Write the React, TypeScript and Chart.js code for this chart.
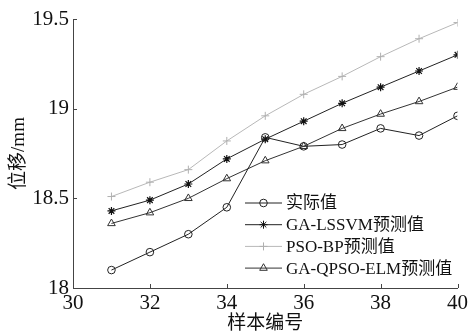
import React, { useEffect, useRef } from "react";
import { Chart, registerables } from "chart.js";
import { drawPoint } from "chart.js/helpers";

Chart.register(...registerables);

const sampleNo = [31, 32, 33, 34, 35, 36, 37, 38, 39, 40];
const actual = [18.1, 18.2, 18.3, 18.45, 18.84, 18.79, 18.8, 18.89, 18.85, 18.96];
const gaLssvm = [18.43, 18.49, 18.58, 18.72, 18.83, 18.93, 19.03, 19.12, 19.21, 19.3];
const psoBp = [18.51, 18.59, 18.66, 18.82, 18.96, 19.08, 19.18, 19.29, 19.39, 19.48];
const gaQpsoElm = [18.36, 18.42, 18.5, 18.61, 18.71, 18.79, 18.89, 18.97, 19.04, 19.12];
const seriesNames = ["实际值", "GA-LSSVM预测值", "PSO-BP预测值", "GA-QPSO-ELM预测值"];
const xTitle = "样本编号";
const yTitle = "位移/mm";

const FONT = "'Liberation Serif', 'Times New Roman', 'Noto Sans CJK SC', serif";
const AXIS_COLOR = "#444";

const innerTicks = {
  id: "innerTicks",
  afterDraw(chart: any) {
    const ctx = chart.ctx;
    const xs = chart.scales.x;
    const ys = chart.scales.y;
    const area = chart.chartArea;
    ctx.save();
    ctx.strokeStyle = AXIS_COLOR;
    ctx.lineWidth = 1;
    ctx.beginPath();
    xs.ticks.forEach((t: any) => {
      const px = Math.round(xs.getPixelForValue(t.value)) + 0.5;
      ctx.moveTo(px, area.bottom);
      ctx.lineTo(px, area.bottom - 4);
    });
    ys.ticks.forEach((t: any) => {
      const py = Math.round(ys.getPixelForValue(t.value)) + 0.5;
      ctx.moveTo(area.left, py);
      ctx.lineTo(area.left + 4, py);
    });
    ctx.stroke();
    ctx.restore();
  },
};

const customLegend = {
  id: "customLegend",
  afterDraw(chart: any) {
    const ctx = chart.ctx;
    const x0 = 245;
    const x1 = 282;
    const tx = 286;
    const y0 = 203;
    const dy = 21.7;
    chart.data.datasets.forEach((ds: any, i: number) => {
      const y = y0 + i * dy;
      ctx.save();
      ctx.strokeStyle = ds.borderColor;
      ctx.lineWidth = ds.borderWidth;
      ctx.beginPath();
      ctx.moveTo(x0, y);
      ctx.lineTo(x1, y);
      ctx.stroke();
      ctx.strokeStyle = ds.pointBorderColor;
      ctx.fillStyle = ds.pointBackgroundColor;
      drawPoint(ctx, { pointStyle: ds.pointStyle, radius: ds.pointRadius, rotation: 0, borderWidth: 1 } as any, (x0 + x1) / 2, y);
      ctx.fillStyle = "#111";
      ctx.font = `17px ${FONT}`;
      ctx.textBaseline = "middle";
      ctx.textAlign = "left";
      ctx.fillText(ds.label, tx, y + 1);
      ctx.restore();
    });
  },
};

export default function App() {
  const ref = useRef<HTMLCanvasElement>(null);
  useEffect(() => {
    const mk = (vals: number[]) => sampleNo.map((x, i) => ({ x, y: vals[i] }));
    const chart = new Chart(ref.current!, {
      type: "line",
      data: {
        datasets: [
          { label: seriesNames[0], data: mk(actual), borderColor: "#222", borderWidth: 1, pointStyle: "circle", pointRadius: 3.8, pointBorderColor: "#222", pointBackgroundColor: "rgba(0,0,0,0)", pointBorderWidth: 1 },
          { label: seriesNames[1], data: mk(gaLssvm), borderColor: "#222", borderWidth: 1, pointStyle: "star", pointRadius: 4, pointBorderColor: "#111", pointBackgroundColor: "rgba(0,0,0,0)", pointBorderWidth: 1.2 },
          { label: seriesNames[2], data: mk(psoBp), borderColor: "#b8b8b8", borderWidth: 1, pointStyle: "cross", pointRadius: 4, pointBorderColor: "#b0b0b0", pointBackgroundColor: "rgba(0,0,0,0)", pointBorderWidth: 1 },
          { label: seriesNames[3], data: mk(gaQpsoElm), borderColor: "#333", borderWidth: 1, pointStyle: "triangle", pointRadius: 4.4, pointBorderColor: "#333", pointBackgroundColor: "rgba(0,0,0,0)", pointBorderWidth: 1 },
        ],
      },
      options: {
        responsive: false,
        animation: false,
        layout: { padding: { top: 19, right: 10, left: 0, bottom: 0 } },
        plugins: { legend: { display: false }, tooltip: { enabled: false } },
        elements: { line: { tension: 0 } },
        scales: {
          x: {
            type: "linear",
            min: 30,
            max: 40,
            grid: { display: false, drawTicks: false },
            border: { display: true, color: AXIS_COLOR, width: 1 },
            ticks: { stepSize: 2, color: "#111", font: { family: FONT, size: 21 }, padding: 3, maxRotation: 0, callback: (v: any) => String(v) },
            title: { display: true, text: xTitle, color: "#111", font: { family: FONT, size: 19, lineHeight: 1 }, padding: { top: 0, bottom: -3 } },
            afterFit: (s: any) => { s.height = 43; },
          },
          y: {
            type: "linear",
            min: 18,
            max: 19.5,
            grid: { display: false, drawTicks: false },
            border: { display: true, color: AXIS_COLOR, width: 1 },
            ticks: { stepSize: 0.5, color: "#111", font: { family: FONT, size: 21 }, padding: 4, callback: (v: any) => String(Math.round(Number(v) * 10) / 10) },
            title: { display: true, text: yTitle, color: "#111", font: { family: FONT, size: 19, lineHeight: 1 }, padding: { top: 10, bottom: 0 } },
            afterFit: (s: any) => { s.width = 73; },
          },
        },
      },
      plugins: [innerTicks, customLegend],
    });
    return () => chart.destroy();
  }, []);
  return (
    <div style={{ position: "fixed", left: 0, top: 0, width: 471, height: 331, background: "#fff" }}>
      <canvas ref={ref} width={471} height={331} />
    </div>
  );
}
